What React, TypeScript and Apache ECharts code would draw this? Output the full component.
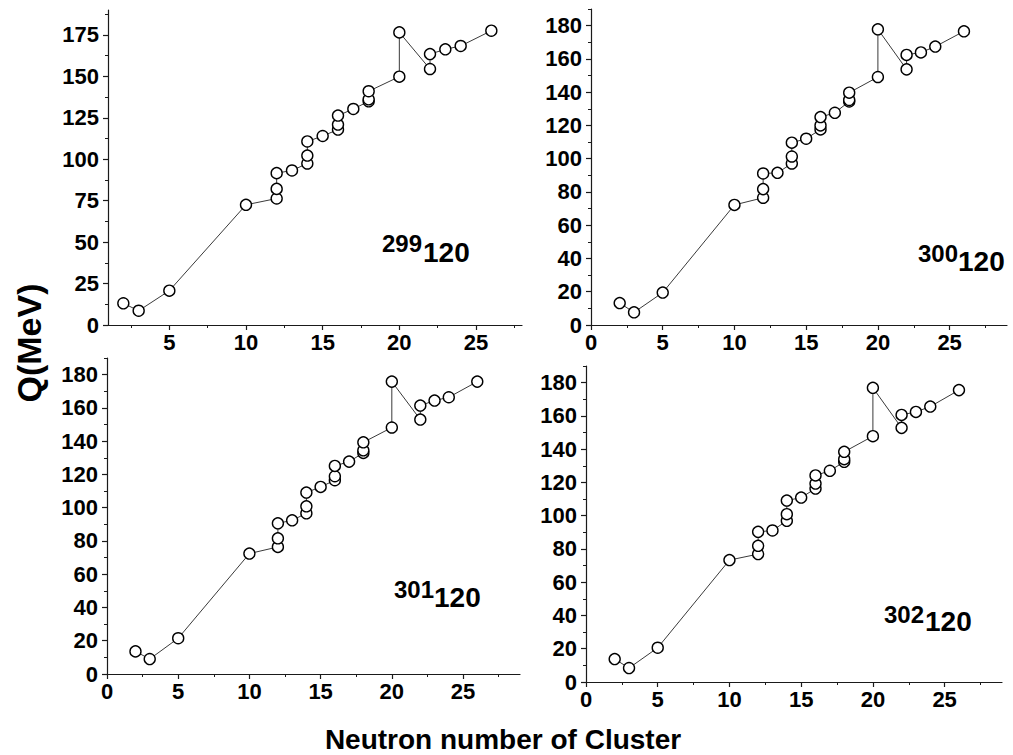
import React, { useEffect, useRef } from "react";
import * as echarts from "echarts";

// Neutron number of the emitted cluster (shared by all panels)
const neutronNumbers = [2, 3, 5, 10, 12, 12, 12, 13, 14, 14, 14, 15, 16, 16, 16, 17, 18, 18, 18, 20, 20, 22, 22, 23, 24, 26];

// Q values (MeV) for each parent nucleus
const q299 = [13.1, 8.6, 20.7, 72.5, 76.3, 82.1, 91.6, 93.2, 97.4, 102.2, 110.7, 114.0, 117.9, 120.9, 126.3, 130.3, 134.9, 136.1, 141.0, 149.8, 176.5, 154.4, 163.4, 166.3, 168.3, 177.5];
const q300 = [13.2, 7.6, 19.5, 72.2, 76.5, 81.7, 91.1, 91.5, 97.1, 101.3, 109.6, 112.0, 117.6, 120.0, 125.0, 127.6, 134.4, 135.3, 139.7, 149.1, 177.8, 153.7, 162.4, 163.9, 167.4, 176.6];
const q301 = [13.6, 9.0, 21.5, 72.4, 76.4, 81.6, 90.6, 92.4, 96.6, 100.8, 109.1, 112.5, 116.5, 118.9, 125.1, 127.7, 132.9, 134.5, 139.3, 148.2, 175.8, 153.0, 161.4, 164.4, 166.4, 175.8];
const q302 = [13.8, 8.4, 20.6, 73.3, 76.9, 81.9, 90.3, 91.1, 96.9, 100.9, 109.1, 110.9, 116.3, 119.3, 124.2, 127.0, 132.4, 134.0, 138.4, 147.8, 176.9, 152.8, 160.6, 162.4, 165.6, 175.5];

// Tick values
const xTicksFrom0 = [0, 5, 10, 15, 20, 25];
const xTicksFrom5 = [5, 10, 15, 20, 25];
const xMinorTicks = [2.5, 7.5, 12.5, 17.5, 22.5, 27.5];
const yTicks25 = [0, 25, 50, 75, 100, 125, 150, 175];
const yMinor25 = [12.5, 37.5, 62.5, 87.5, 112.5, 137.5, 162.5, 187.5];
const yTicks20 = [0, 20, 40, 60, 80, 100, 120, 140, 160, 180];
const yMinor20 = [10, 30, 50, 70, 90, 110, 130, 150, 170, 190];

const panelNames = ["299", "300", "301", "302"];
const panelSeries = [q299, q300, q301, q302];

const FONT = "'Liberation Sans', Arial, Helvetica, sans-serif";
const AXIS_COLOR = "#1a1a1a";

export default function App() {
  const ref = useRef<HTMLDivElement>(null);

  useEffect(() => {
    if (!ref.current) return;
    const chart = echarts.init(ref.current, null, { renderer: "svg" });

    const grids = [
      { left: 108, top: 10, width: 414, height: 315 },
      { left: 591, top: 9, width: 416, height: 316 },
      { left: 107, top: 358, width: 413, height: 316 },
      { left: 586, top: 366, width: 416, height: 316 },
    ];
    const xRanges = [
      { min: 1, max: 28, ticks: xTicksFrom5 },
      { min: 0, max: 29, ticks: xTicksFrom0 },
      { min: 0, max: 29, ticks: xTicksFrom0 },
      { min: 0, max: 29, ticks: xTicksFrom0 },
    ];
    const yRanges = [
      { min: 0, max: 190, ticks: yTicks25, minor: yMinor25 },
      { min: 0, max: 190, ticks: yTicks20, minor: yMinor20 },
      { min: 0, max: 190, ticks: yTicks20, minor: yMinor20 },
      { min: 0, max: 190, ticks: yTicks20, minor: yMinor20 },
    ];

    const labelStyle = {
      color: "#000",
      fontFamily: FONT,
      fontWeight: "bold" as const,
      fontSize: 22,
    };

    const xAxes: any[] = [];
    const yAxes: any[] = [];
    grids.forEach((_, i) => {
      xAxes.push({
        type: "value",
        gridIndex: i,
        position: "bottom",
        min: xRanges[i].min,
        max: xRanges[i].max,
        axisLine: { show: true, onZero: false, lineStyle: { color: AXIS_COLOR, width: 1.2 } },
        axisTick: { show: true, inside: false, length: 5, customValues: xRanges[i].ticks, lineStyle: { color: AXIS_COLOR, width: 1.2 } },
        axisLabel: { ...labelStyle, margin: 6, customValues: xRanges[i].ticks },
        splitLine: { show: false },
      });
      xAxes.push({
        type: "value",
        gridIndex: i,
        position: "bottom",
        min: xRanges[i].min,
        max: xRanges[i].max,
        axisLine: { show: false, onZero: false },
        axisTick: { show: true, inside: false, length: 3, customValues: xMinorTicks, lineStyle: { color: AXIS_COLOR, width: 1 } },
        axisLabel: { show: false },
        splitLine: { show: false },
      });
      yAxes.push({
        type: "value",
        gridIndex: i,
        position: "left",
        min: yRanges[i].min,
        max: yRanges[i].max,
        axisLine: { show: true, onZero: false, lineStyle: { color: AXIS_COLOR, width: 1.2 } },
        axisTick: { show: true, inside: false, length: 5, customValues: yRanges[i].ticks, lineStyle: { color: AXIS_COLOR, width: 1.2 } },
        axisLabel: { ...labelStyle, margin: 9, customValues: yRanges[i].ticks },
        splitLine: { show: false },
      });
      yAxes.push({
        type: "value",
        gridIndex: i,
        position: "left",
        min: yRanges[i].min,
        max: yRanges[i].max,
        axisLine: { show: false, onZero: false },
        axisTick: { show: true, inside: false, length: 3, customValues: yRanges[i].minor, lineStyle: { color: AXIS_COLOR, width: 1 } },
        axisLabel: { show: false },
        splitLine: { show: false },
      });
    });

    const series = panelSeries.map((vals, i) => ({
      type: "line",
      name: panelNames[i],
      xAxisIndex: i * 2,
      yAxisIndex: i * 2,
      data: neutronNumbers.map((n, k) => [n, vals[k]]),
      symbol: "circle",
      symbolSize: 11,
      showAllSymbol: true,
      lineStyle: { color: "#3a3a3a", width: 1 },
      itemStyle: { color: "#fff", borderColor: "#000", borderWidth: 1.4 },
      z: 3,
    }));

    const annot = [
      { sup: panelNames[0], supX: 382, supY: 243, mainX: 423, mainY: 252 },
      { sup: panelNames[1], supX: 918, supY: 253, mainX: 958, mainY: 261 },
      { sup: panelNames[2], supX: 394, supY: 589, mainX: 434, mainY: 597 },
      { sup: panelNames[3], supX: 884, supY: 614, mainX: 925, mainY: 621 },
    ];

    const graphic: any[] = [];
    annot.forEach((a) => {
      graphic.push({
        type: "text",
        x: a.supX,
        y: a.supY,
        style: { text: a.sup, fill: "#000", font: `bold 24px ${FONT}`, align: "left", verticalAlign: "middle" },
      });
      graphic.push({
        type: "text",
        x: a.mainX,
        y: a.mainY,
        style: { text: "120", fill: "#000", font: `bold 28px ${FONT}`, align: "left", verticalAlign: "middle" },
      });
    });
    graphic.push({
      type: "text",
      x: 29,
      y: 343,
      rotation: Math.PI / 2,
      style: { text: "Q(MeV)", fill: "#000", font: `bold 34px ${FONT}`, align: "center", verticalAlign: "middle" },
    });
    graphic.push({
      type: "text",
      x: 503,
      y: 739,
      style: { text: "Neutron number of Cluster", fill: "#000", font: `bold 28px ${FONT}`, align: "center", verticalAlign: "middle" },
    });

    chart.setOption({
      animation: false,
      backgroundColor: "#fff",
      grid: grids.map((g) => ({ ...g, containLabel: false, outerBoundsMode: "none" })),
      xAxis: xAxes,
      yAxis: yAxes,
      series,
      graphic,
    });

    return () => chart.dispose();
  }, []);

  return (
    <div
      ref={ref}
      style={{ position: "fixed", left: 0, top: 0, width: 1013, height: 755, background: "#fff" }}
    />
  );
}
